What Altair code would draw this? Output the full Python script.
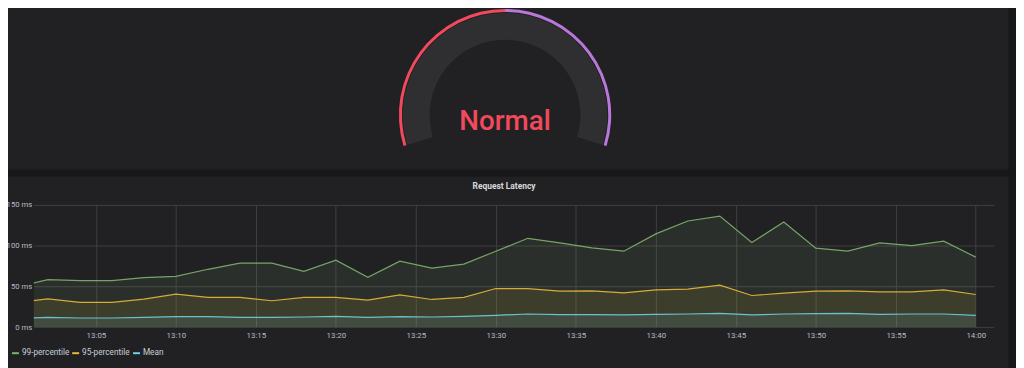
import altair as alt
import pandas as pd

# ---------------- data ----------------
times = ["13:00", "13:02", "13:04", "13:06", "13:08", "13:10", "13:12", "13:14",
         "13:16", "13:18", "13:20", "13:22", "13:24", "13:26", "13:28", "13:30",
         "13:32", "13:34", "13:36", "13:38", "13:40", "13:42", "13:44", "13:46",
         "13:48", "13:50", "13:52", "13:54", "13:56", "13:58", "14:00"]
p99 = [49, 58.4, 57.2, 57.2, 60.8, 62.4, 71, 78.6, 78.6, 68.5, 82.2, 61.2, 81, 72.5,
       77.4, 93.2, 109, 103.4, 97.3, 93.2, 114.4, 130.2, 136.2, 103.8, 129, 96.9,
       93.2, 103.4, 100.1, 105.4, 85.9]
p95 = [30, 34.8, 30.4, 30.4, 34.4, 40.5, 36.5, 36.5, 32.4, 36.5, 36.5, 33.2, 39.7,
       34, 36.5, 47.4, 47.4, 44.2, 44.6, 42.1, 45.8, 46.6, 51.5, 38.9, 41.7, 44.2,
       44.6, 43.3, 43.3, 45.8, 40.1]
mean = [10.5, 12.1, 11.3, 11.3, 12.1, 12.9, 12.9, 12.1, 12.1, 12.5, 13.3, 12.1, 12.9,
        12.5, 13.3, 14.6, 16.2, 15.4, 15.4, 15, 15.8, 16.2, 17, 15, 16.2, 16.6, 17,
        15.8, 16.2, 16.2, 14.6]
series_names = ["99-percentile", "95-percentile", "Mean"]
series_colors = ["#7EB26D", "#EAB839", "#6ED0E0"]
x_ticks = ["13:05", "13:10", "13:15", "13:20", "13:25", "13:30", "13:35", "13:40",
           "13:45", "13:50", "13:55", "14:00"]
x_window = ["13:01:07", "14:01:08"]
y_ticks = [0, 50, 100, 150]
panel_title = "Request Latency"

gauge_label = "Normal"
gauge_band_start = [0, 50]
gauge_band_end = [50, 100]
gauge_band_colors = ["#F2495C", "#B877D9"]

# legend layout (pixel offsets of each entry, relative to the plot's left edge)
legend_entry_x = [-22, 38.7, 100]
LEGEND_Y = 149.5


# ---------------- tables ----------------
def to_min(s):
    parts = [int(p) for p in s.split(":")]
    m = (parts[0] - 13) * 60 + parts[1]
    if len(parts) > 2:
        m += parts[2] / 60.0
    return m


rows = []
for name, vals in zip(series_names, [p99, p95, mean]):
    for t, v in zip(times, vals):
        rows.append({"minute": to_min(t), "series": name, "value": v})
df = pd.DataFrame(rows)

gauge_df = pd.DataFrame({"start": gauge_band_start, "end": gauge_band_end})
gauge_bg_df = pd.DataFrame({"start": [min(gauge_band_start)], "end": [max(gauge_band_end)]})

FONT = "Roboto"
label_expr = ("(floor(datum.value / 60) + 13) + ':' + "
              "(datum.value % 60 < 10 ? '0' : '') + (datum.value % 60)")
x_enc = alt.X("minute:Q",
              scale=alt.Scale(domain=[to_min(x_window[0]), to_min(x_window[1])],
                              nice=False, zero=False),
              axis=alt.Axis(values=[to_min(t) for t in x_ticks], labelExpr=label_expr,
                            grid=True, domain=False, ticks=False, labelFlush=False,
                            title=None, labelPadding=4, labelFontSize=8))
y_enc = alt.Y("value:Q", stack=None,
              scale=alt.Scale(domain=[0, 150], nice=False),
              axis=alt.Axis(values=y_ticks, labelExpr="datum.value + ' ms'",
                            grid=True, domain=False, ticks=False, title=None,
                            labelPadding=2, labelFontSize=7.8))

series_scale = alt.Scale(domain=series_names, range=series_colors)
area = alt.Chart(df).mark_area(fillOpacity=0.1, clip=True).encode(
    x=x_enc, y=y_enc,
    fill=alt.Fill("series:N", scale=series_scale, legend=None),
)
line = alt.Chart(df).mark_line(strokeWidth=1.2, strokeOpacity=0.9, clip=True).encode(
    x=x_enc, y=y_enc,
    color=alt.Color("series:N", scale=series_scale, legend=None),
)

# legend (series swatches use the same colour scale)
legend_layers = []
for name, lx in zip(series_names, legend_entry_x):
    ldf = pd.DataFrame({"series": [name]})
    legend_layers.append(
        alt.Chart(ldf).mark_rule(strokeWidth=2).encode(
            x=alt.value(lx), x2=alt.value(lx + 7), y=alt.value(LEGEND_Y),
            color=alt.Color("series:N", scale=series_scale, legend=None)))
    legend_layers.append(
        alt.Chart(ldf).mark_text(font=FONT, fontSize=8.3, color="#c7d0d9", align="left",
                                 baseline="middle").encode(
            x=alt.value(lx + 10), y=alt.value(LEGEND_Y), text="series:N"))

# panel background strips
sep = alt.Chart(pd.DataFrame({"p": [0]})).mark_rect(color="#161719").encode(
    x=alt.value(-30), x2=alt.value(995), y=alt.value(-35.5), y2=alt.value(-28.5))
right_strip = alt.Chart(pd.DataFrame({"p": [0]})).mark_rect(color="#161719").encode(
    x=alt.value(982.5), x2=alt.value(995), y=alt.value(-200), y2=alt.value(170))

# gauge
theta_scale = alt.Scale(domain=[0, 100], range=[4.4157, 8.1506])
gauge_bg = alt.Chart(gauge_bg_df).mark_arc(radius=103, radius2=76, color="#2f2f32").encode(
    x=alt.value(475), y=alt.value(-90.5),
    theta=alt.Theta("start:Q", scale=theta_scale, stack=None), theta2="end:Q")
gauge_layers = []
for i, col in enumerate(gauge_band_colors):
    gauge_layers.append(
        alt.Chart(gauge_df.iloc[[i]]).mark_arc(radius=107, radius2=104, color=col).encode(
            x=alt.value(475), y=alt.value(-90.5),
            theta=alt.Theta("start:Q", scale=theta_scale, stack=None), theta2="end:Q"))
gauge_text = alt.Chart(pd.DataFrame({"label": [gauge_label]})).mark_text(
    font=FONT, fontSize=28, fontWeight=500, color="#F2495C",
    baseline="alphabetic", align="center").encode(
    x=alt.value(475), y=alt.value(-75), text="label:N")

title = alt.Chart(pd.DataFrame({"t": [panel_title]})).mark_text(
    font=FONT, fontSize=8.5, fontWeight="bold", color="#d8d9da",
    baseline="middle", align="center").encode(
    x=alt.value(474), y=alt.value(-19), text="t:N")

chart = alt.layer(sep, right_strip, gauge_bg, *gauge_layers, gauge_text, title,
                  area, line, *legend_layers).properties(
    width=967.7, height=123.3,
    autosize=alt.AutoSizeParams(type="none"),
    padding={"left": 26, "top": 197, "right": 22.3, "bottom": 39.7},
    background="#212124",
).configure_view(stroke=None).configure_axis(
    labelFont=FONT, labelColor="#b8bcc2", gridColor="#404043", gridWidth=1,
)

chart.save("out.html", embed_options={"renderer": "svg", "actions": False})
